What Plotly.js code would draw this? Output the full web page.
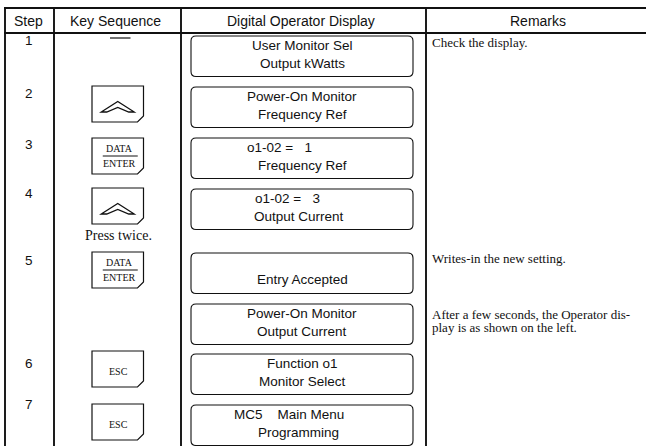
<!DOCTYPE html>
<html>
<head>
<meta charset="utf-8">
<script src="https://cdn.plot.ly/plotly-3.0.1.min.js"></script>
<style>html,body{margin:0;padding:0;background:#fff;}#chart{width:646px;height:446px;}</style>
</head>
<body>
<div id="chart"></div>
<script>
// ---------- data ----------
const headers = ['Step', 'Key Sequence', 'Digital Operator Display', 'Remarks'];
const steps = ['1', '2', '3', '4', '5', '', '6', '7'];
const keys = ['dash', 'up', 'enter', 'up', 'enter', '', 'esc', 'esc'];
const keyNotes = ['', '', '', 'Press twice.', '', '', '', ''];
const displayLine1 = ['User Monitor Sel', 'Power-On Monitor', 'o1-02 =\u00A0\u00A0\u00A01', 'o1-02 =\u00A0\u00A0\u00A03', '', 'Power-On Monitor', 'Function o1', 'MC5\u00A0\u00A0\u00A0\u00A0Main Menu'];
const displayLine2 = ['Output kWatts', 'Frequency Ref', 'Frequency Ref', 'Output Current', 'Entry Accepted', 'Output Current', 'Monitor Select', 'Programming'];
const remarks = [['Check the display.'], [], [], [], ['Writes-in the new setting.'], ['After a few seconds, the Operator dis-', 'play is as shown on the left.'], [], []];

// ---------- geometry (layout only) ----------
const W = 646, H = 446;
const colX = [5, 54, 181, 426];
const headerCX = [28.5, 115.5, 301, 538];
const tableTop = 8, headerBottom = 33, headerY = 20.5;
const stepX = 29;
const stepY = [40, 93, 144, 193, 260, null, 363, 404];
const keyL = 92, keyR = 143.5, keyH = 36, chamfer = 6;
const keyTop = [null, 86, 138, 188, 252, null, 351, 404];
const boxL = 191, boxR = 413, boxH = 40.5, boxRad = 5;
const boxTop = [36, 87, 138, 189, 253, 304, 354, 405];
const line1X = [302, 302, 279, 287, 302, 302, 302, 289];
const line2X = [302, 302, 302, 299, 302, 302, 302, 298];
const remarkX = 430;
const remarkY = [42.5, null, null, null, 258.5, 314, null, null];
const remarkLH = 13.6;

const sans = 'Liberation Sans, Arial, sans-serif';
const serif = 'Liberation Serif, Times New Roman, serif';
const ink = '#111';

const shapes = [];
const annotations = [];

function line(x0, y0, x1, y1, w) {
  shapes.push({type: 'line', xref: 'x', yref: 'y', x0, y0, x1, y1, line: {color: ink, width: w}});
}
function path(p, w, fill) {
  shapes.push({type: 'path', xref: 'x', yref: 'y', path: p, line: {color: ink, width: w}, fillcolor: fill || 'rgba(0,0,0,0)'});
}
function text(t, x, y, size, fam, anchor) {
  annotations.push({text: t, x, y, xref: 'x', yref: 'y', showarrow: false,
    xanchor: anchor || 'center', yanchor: 'middle', font: {size, family: fam, color: ink}});
}

// table grid
line(colX[0] - 1, tableTop, W + 5, tableTop, 2);
line(colX[0] - 1, headerBottom, W + 5, headerBottom, 2);
colX.forEach(x => line(x, tableTop, x, H + 5, 1.9));

// headers
headers.forEach((h, i) => text(h, headerCX[i], headerY, 14, sans));

// steps
steps.forEach((s, i) => { if (s) text(s, stepX, stepY[i], 13.5, sans); });

// keys
keys.forEach((k, i) => {
  if (k === 'dash') {
    line(110, 38, 130.5, 38, 1.2);
    return;
  }
  if (!k) return;
  const t = keyTop[i], b = t + keyH;
  path(`M${keyL},${t} L${keyR},${t} L${keyR},${b - chamfer} L${keyR - chamfer},${b} L${keyL},${b} Z`, 1.2);
  const cx = (keyL + keyR) / 2;
  if (k === 'up') {
    const py = t + 15.5, by = t + 26;
    path(`M${cx - 16.5},${by} L${cx},${py} L${cx + 16.5},${by} L${cx + 11},${by} L${cx},${py + 6} L${cx - 11},${by} Z`, 1.3);
  } else if (k === 'enter') {
    text('DATA', cx + 2, t + 10, 10, serif);
    line(cx - 15, t + 18, cx + 20, t + 18, 1);
    text('ENTER', cx + 2, t + 25, 10, serif);
  } else if (k === 'esc') {
    text('ESC', cx + 1, t + 20.5, 10, serif);
  }
});
keyNotes.forEach((n, i) => { if (n) text(n, 118, keyTop[i] + keyH + 11, 14, serif); });

// display boxes
boxTop.forEach((t, i) => {
  const b = t + boxH, r = boxRad;
  path(`M${boxL + r},${t} L${boxR - r},${t} Q${boxR},${t} ${boxR},${t + r} L${boxR},${b - r} Q${boxR},${b} ${boxR - r},${b} L${boxL + r},${b} Q${boxL},${b} ${boxL},${b - r} L${boxL},${t + r} Q${boxL},${t} ${boxL + r},${t} Z`, 1.1);
  if (displayLine1[i]) text(displayLine1[i], line1X[i], t + 9.5, 13.5, sans);
  if (displayLine2[i]) text(displayLine2[i], line2X[i], displayLine1[i] ? t + 27 : t + 26, 13.5, sans);
});

// remarks
remarks.forEach((lines, i) => {
  lines.forEach((l, j) => text(l, remarkX, remarkY[i] + j * remarkLH, 13, serif, 'left'));
});

const layout = {
  width: W, height: H,
  margin: {l: 0, r: 0, t: 0, b: 0},
  paper_bgcolor: '#fff', plot_bgcolor: '#fff',
  xaxis: {range: [0, W], visible: false, fixedrange: true},
  yaxis: {range: [H, 0], visible: false, fixedrange: true},
  showlegend: false,
  shapes, annotations
};
Plotly.newPlot('chart', [{x: [], y: [], type: 'scatter', mode: 'markers'}], layout, {displayModeBar: false, staticPlot: true});
</script>
</body>
</html>
